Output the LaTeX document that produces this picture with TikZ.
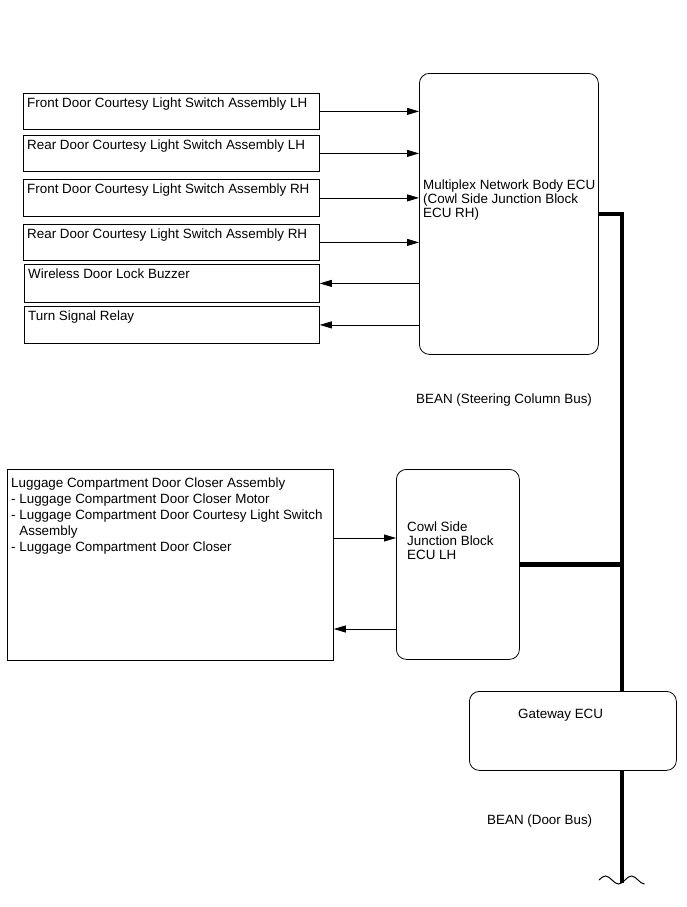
\documentclass[tikz,border=0pt]{standalone}
\usepackage{fontspec}
\setmainfont{Liberation Sans}
\usetikzlibrary{arrows.meta}

\begin{document}
\begin{tikzpicture}[x=1pt, y=-1pt,
            font=\fontsize{13.4}{14}\selectfont,
            box/.style = {draw, rectangle, line width=0.8pt, inner sep=0pt, anchor=north west},
            unit/.style = {box, rounded corners=10pt},
            txt/.style = {anchor=north west, inner xsep=4pt, inner ysep=5pt, align=left},
            sig/.style = {line width=0.8pt, -{Triangle[length=12pt, width=7pt]}},
            bus/.style = {line width=4.5pt}]
\useasboundingbox (0,0) rectangle (687,907);

\node[box, minimum width=296pt, minimum height=36pt,
    label={[txt]north west:Front Door Courtesy Light Switch Assembly LH}] (flh) at (23,93) {};
\node[box, minimum width=296pt, minimum height=36pt,
    label={[txt]north west:Rear Door Courtesy Light Switch Assembly LH}] (rlh) at (23,135) {};
\node[box, minimum width=296pt, minimum height=37pt,
    label={[txt]north west:Front Door Courtesy Light Switch Assembly RH}] (frh) at (23,179) {};
\node[box, minimum width=296pt, minimum height=36pt,
    label={[txt]north west:Rear Door Courtesy Light Switch Assembly RH}] (rrh) at (23,224) {};
\node[box, minimum width=295pt, minimum height=38pt,
    label={[txt]north west:Wireless Door Lock Buzzer}] (buzzer) at (24,264) {};
\node[box, minimum width=295pt, minimum height=37pt,
    label={[txt]north west:Turn Signal Relay}] (relay) at (24,306) {};

\node[unit, minimum width=179pt, minimum height=281pt,
    label={[txt, yshift=-102pt]north west:Multiplex Network Body ECU\\(Cowl Side Junction Block\\ECU RH)}] (mpx) at (419,73) {};

\node[box, minimum width=326pt, minimum height=191pt,
    label={[txt, yshift=-4pt, font=\fontsize{13.4}{16}\selectfont]north west:Luggage Compartment Door Closer Assembly\\
        - Luggage Compartment Door Closer Motor\\
        - Luggage Compartment Door Courtesy Light Switch\\
        \phantom{- }Assembly\\
        - Luggage Compartment Door Closer}] (lug) at (7,469) {};

\node[unit, minimum width=123pt, minimum height=190pt,
    label={[txt, xshift=7pt, yshift=-48pt]north west:Cowl Side\\Junction Block\\ECU LH}] (cowl) at (396,469) {};

\node[unit, minimum width=207pt, minimum height=79pt,
    label={[txt, xshift=45pt, yshift=-13pt]north west:Gateway ECU}] (gw) at (469,691) {};

\node[anchor=base west, inner sep=0pt] (steer) at (416,403) {BEAN (Steering Column Bus)};
\node[anchor=base west, inner sep=0pt] (door) at (487,824) {BEAN (Door Bus)};

\draw[sig] (flh.east) -- (flh.east -| mpx.west);
\draw[sig] (rlh.east) -- (rlh.east -| mpx.west);
\draw[sig] (frh.east) -- (frh.east -| mpx.west);
\draw[sig] (rrh.east) -- (rrh.east -| mpx.west);
\draw[sig] (buzzer.east -| mpx.west) -- (buzzer.east);
\draw[sig] (relay.east -| mpx.west) -- (relay.east);

\coordinate (lugin) at ([yshift=-69pt]lug.north east);
\coordinate (lugout) at ([yshift=-160pt]lug.north east);
\draw[sig] (lugin) -- (lugin -| cowl.west);
\draw[sig] (lugout -| cowl.west) -- (lugout);

\coordinate (busend) at (622,883);
\draw[bus] (mpx.east) -| (gw.north -| busend);
\draw[bus] (cowl.east) -- (cowl.east -| busend);
\draw[bus] (gw.south -| busend) -- (busend);

\draw[line width=1pt] (599,880) sin (605.5,876) cos (612,880) sin (618.5,884)
    cos (625,880) sin (631.5,876) cos (638,880) sin (644.5,884);

\end{tikzpicture}
\end{document}
